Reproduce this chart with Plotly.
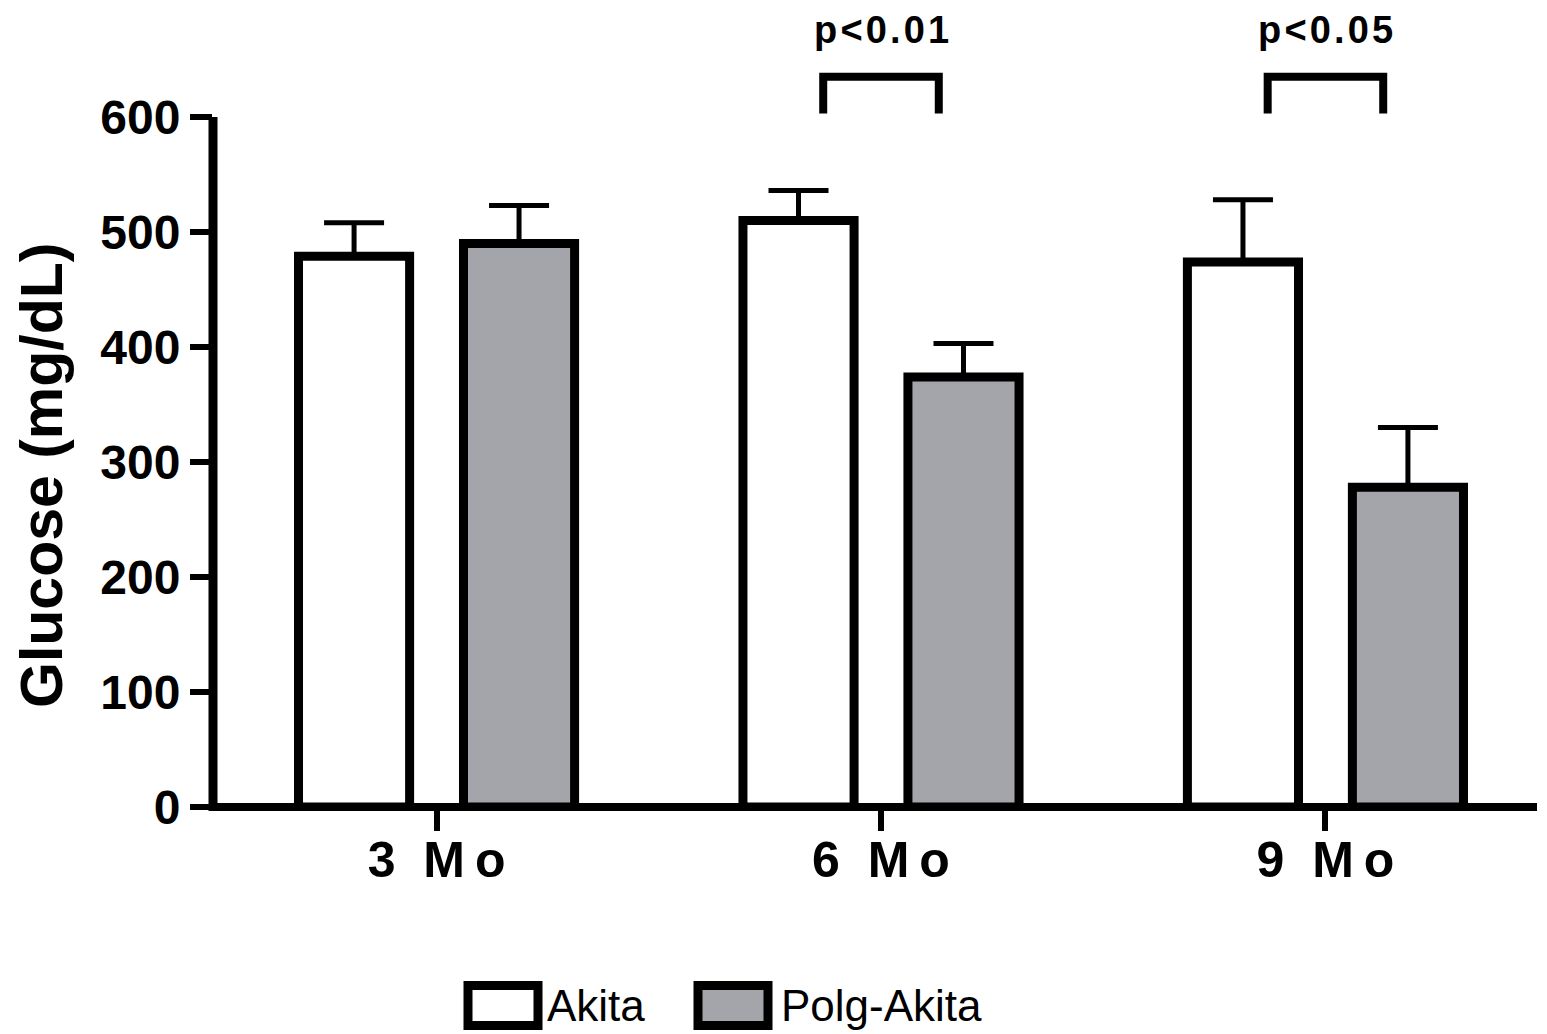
import plotly.graph_objects as go

# ---- data ----
categories = ["3 Mo", "6 Mo", "9 Mo"]
tick_text = ["3\u00a0\u00a0M\u2009o", "6\u00a0\u00a0M\u2009o", "9\u00a0\u00a0M\u2009o"]
akita_mean = [479, 510, 474]
akita_err = [29, 26, 54]
polg_mean = [490, 374, 278]
polg_err = [33, 29, 52]
series_names = ["Akita", "Polg-Akita"]
p_labels = {1: "p\u200a<\u200a0\u200a.\u200a0\u200a1", 2: "p\u200a<\u200a0\u200a.\u200a0\u200a5"}
y_ticks = [0, 100, 200, 300, 400, 500, 600]

# ---- layout geometry (page body has an 8px margin) ----
OFF = 8
W, H = 1547 - OFF, 1034 - OFF
L, R, T = 213 - OFF, 10, 0
B = H - (807 - OFF)
PH = H - T - B
Y_MAX = PH / 1.15
X_RANGE = [-0.503, 2.476]
GRAY = "#a4a4ab"
FONT = "Liberation Sans, Arial, sans-serif"


def px_x(px):
    return (px - OFF - L) / (W - L - R)


def px_y(py):
    return (H - B - (py - OFF)) / PH


xs = list(range(len(categories)))
bar_w = 0.25
half_sep = 0.1856

fig = go.Figure()
fig.add_trace(go.Bar(
    x=xs, y=akita_mean, name=series_names[0], width=bar_w, offset=-half_sep - bar_w / 2,
    marker=dict(color="white", line=dict(color="black", width=9)),
    error_y=dict(type="data", array=akita_err, arrayminus=[0] * 3, symmetric=False,
                 color="black", thickness=5, width=30),
    showlegend=False))
fig.add_trace(go.Bar(
    x=xs, y=polg_mean, name=series_names[1], width=bar_w, offset=half_sep - bar_w / 2,
    marker=dict(color=GRAY, line=dict(color="black", width=9)),
    error_y=dict(type="data", array=polg_err, arrayminus=[0] * 3, symmetric=False,
                 color="black", thickness=5, width=30),
    showlegend=False))

shapes = []
annotations = []

# axis lines (paper refs so they are not clipped)
shapes.append(dict(type="line", xref="paper", yref="paper", x0=0, x1=0, y0=-0.005,
                   y1=600 / Y_MAX, line=dict(color="black", width=9)))
shapes.append(dict(type="line", xref="paper", yref="paper", x0=0, x1=1, y0=0, y1=0,
                   line=dict(color="black", width=8)))

# significance brackets
for ci, lab in p_labels.items():
    x0, x1 = ci - 0.13, ci + 0.13
    y_low, y_top = 603, 635
    shapes.append(dict(type="path", xref="x", yref="y",
                       path=f"M {x0},{y_low} L {x0},{y_top} L {x1},{y_top} L {x1},{y_low}",
                       line=dict(color="black", width=8)))
    annotations.append(dict(x=ci, y=px_y(30), xref="x", yref="paper", text=lab, showarrow=False,
                            xanchor="center", yanchor="middle",
                            font=dict(family=FONT, size=38, color="black", weight="bold")))

# y-axis title
annotations.append(dict(x=px_x(42), y=px_y(476), xref="paper", yref="paper",
                        text="<b>Glucose (mg/dL)</b>", textangle=-90, showarrow=False,
                        xanchor="center", yanchor="middle",
                        font=dict(family=FONT, size=59, color="black")))

# manual legend
legend_items = [(series_names[0], "white", 468, 538, 545), (series_names[1], GRAY, 698, 768, 779)]
for name, fill, bx0, bx1, tx in legend_items:
    shapes.append(dict(type="rect", xref="paper", yref="paper",
                       x0=px_x(bx0), x1=px_x(bx1), y0=px_y(1025.5), y1=px_y(985.5),
                       fillcolor=fill, line=dict(color="black", width=9)))
    annotations.append(dict(x=px_x(tx), y=px_y(1005), xref="paper", yref="paper",
                            text=name, showarrow=False, xanchor="left", yanchor="middle",
                            font=dict(family=FONT, size=44, color="black")))

fig.update_layout(
    width=W, height=H,
    margin=dict(l=L, r=R, t=T, b=B, pad=0),
    paper_bgcolor="white", plot_bgcolor="white",
    barmode="group",
    shapes=shapes, annotations=annotations,
    xaxis=dict(range=X_RANGE, tickmode="array", tickvals=xs, ticktext=tick_text,
               showline=False, showgrid=False, zeroline=False,
               ticks="outside", ticklen=23, tickwidth=6, tickcolor="black",
               ticklabelstandoff=-14,
               tickfont=dict(family=FONT, size=50, color="black", weight="bold")),
    yaxis=dict(range=[0, Y_MAX], tickmode="array", tickvals=y_ticks,
               showline=False, showgrid=False, zeroline=False,
               ticks="outside", ticklen=22, tickwidth=6, tickcolor="black",
               tickfont=dict(family=FONT, size=48, color="black", weight="bold")),
)

fig.write_html("out.html")
